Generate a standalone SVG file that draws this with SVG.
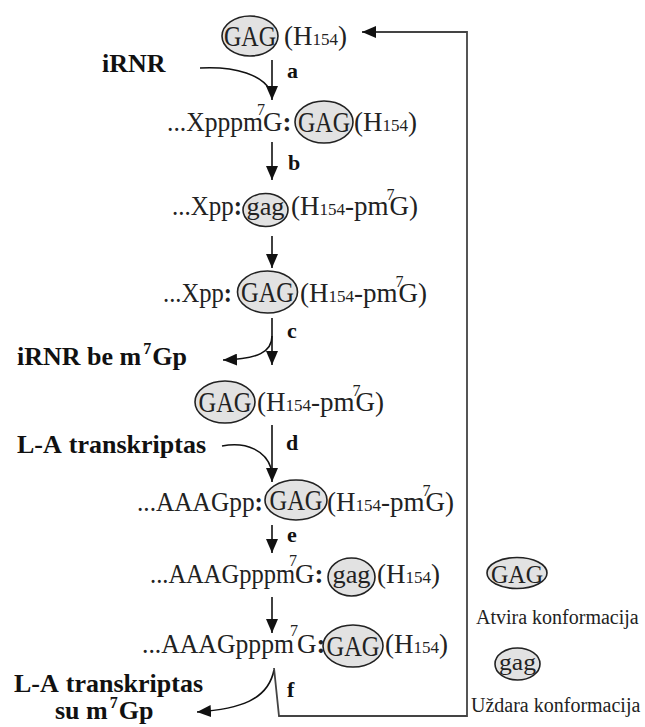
<svg xmlns="http://www.w3.org/2000/svg" width="645" height="727" viewBox="0 0 645 727">
<style>
.t{font-family:"Liberation Serif","Times New Roman",serif;font-size:27px;fill:#222}
.sm{font-size:17px}
.sup{font-size:16px}
.b{font-weight:bold}
.lab{font-family:"Liberation Serif","Times New Roman",serif;font-size:22px;font-weight:bold;fill:#111}
.side{font-family:"Liberation Serif","Times New Roman",serif;font-size:26px;font-weight:bold;fill:#111}
.ss{font-size:16px}
.leg{font-family:"Liberation Serif","Times New Roman",serif;font-size:20px;fill:#222}
.el{fill:#e2e2e2;stroke:#222;stroke-width:1.6}
.in{font-family:"Liberation Serif","Times New Roman",serif;font-size:29px;fill:#222;text-anchor:middle}
.ar{fill:none;stroke:#111;stroke-width:1.6}
.ret{fill:none;stroke:#444;stroke-width:1.8}
</style>
<defs>
<marker id="ah" markerUnits="userSpaceOnUse" viewBox="0 0 14 12" refX="14" refY="6" markerWidth="14" markerHeight="12" orient="auto">
<path d="M0,0 L14,6 L0,12 z" fill="#111"/>
</marker>
</defs>

<g id="connectors">
<path class="ar" d="M272,60 V100" marker-end="url(#ah)"/>
<path class="ar" d="M200,68 C238,66 262,76 270,90"/>
<path class="ar" d="M272,142 V180" marker-end="url(#ah)"/>
<path class="ar" d="M272,236 V268" marker-end="url(#ah)"/>
<path class="ar" d="M272,318 V365" marker-end="url(#ah)"/>
<path class="ar" d="M272,336 C272,352 258,359 223,360" marker-end="url(#ah)"/>
<path class="ar" d="M272,425 V482" marker-end="url(#ah)"/>
<path class="ar" d="M222,446 C248,441 266,452 271,468"/>
<path class="ar" d="M272,525 V553" marker-end="url(#ah)"/>
<path class="ar" d="M272,597 V633" marker-end="url(#ah)"/>
<path class="ar" d="M274,670 C268,700 240,709 197,712" marker-end="url(#ah)"/>
<path class="ret" d="M274,668 L279,716 L467,716 L467,32 L362,32" marker-end="url(#ah)"/>
<text class="lab" x="287" y="78">a</text>
<text class="lab" x="288" y="170">b</text>
<text class="lab" x="287" y="338">c</text>
<text class="lab" x="286" y="450">d</text>
<text class="lab" x="287" y="542">e</text>
<text class="lab" x="287" y="697">f</text>
</g>

<g id="side-labels">
<text class="side" x="102" y="72">iRNR</text>
<text class="side" x="17" y="365">iRNR be m<tspan class="ss" dx="2" dy="-11">7</tspan><tspan dx="1" dy="11">Gp</tspan></text>
<text class="side" x="17" y="453">L-A<tspan dx="7">transkriptas</tspan></text>
<text class="side" x="14" y="692">L-A<tspan dx="7">transkriptas</tspan></text>
<text class="side" x="55" y="719">su m<tspan class="ss" dx="2" dy="-11">7</tspan><tspan dx="1" dy="11">Gp</tspan></text>
</g>

<g id="n1">
<ellipse class="el" cx="250" cy="36" rx="28" ry="20"/>
<text class="in" x="250" y="46" textLength="52" lengthAdjust="spacingAndGlyphs">GAG</text>
<text class="t" x="284" y="45">(H<tspan class="sm">154</tspan>)</text>
</g>

<g id="n2">
<text class="t" x="167" y="131" textLength="96" lengthAdjust="spacingAndGlyphs">...Xpppm</text>
<text class="t sup" x="257" y="115">7</text>
<text class="t" x="263" y="131">G<tspan class="b">:</tspan></text>
<ellipse class="el" cx="324" cy="122" rx="29" ry="21"/>
<text class="in" x="324" y="132" textLength="52" lengthAdjust="spacingAndGlyphs">GAG</text>
<text class="t" x="354" y="131">(H<tspan class="sm">154</tspan>)</text>
</g>

<g id="n3">
<text class="t" x="172" y="215" textLength="70" lengthAdjust="spacingAndGlyphs">...Xpp<tspan class="b">:</tspan></text>
<ellipse class="el" cx="265.5" cy="210" rx="22.5" ry="16.5"/>
<text class="in" x="265.5" y="215" style="font-size:26px" textLength="38" lengthAdjust="spacingAndGlyphs">gag</text>
<text class="t" x="291" y="215">(H<tspan class="sm">154</tspan>-pm<tspan class="sup" dx="-2" dy="-15">7</tspan><tspan dx="-5" dy="15">G)</tspan></text>
</g>

<g id="n4">
<text class="t" x="163" y="302" textLength="69" lengthAdjust="spacingAndGlyphs">...Xpp<tspan class="b">:</tspan></text>
<ellipse class="el" cx="267.5" cy="292" rx="30" ry="21"/>
<text class="in" x="267.5" y="302" textLength="53" lengthAdjust="spacingAndGlyphs">GAG</text>
<text class="t" x="300" y="302">(H<tspan class="sm">154</tspan>-pm<tspan class="sup" dx="-2" dy="-15">7</tspan><tspan dx="-5" dy="15">G)</tspan></text>
</g>

<g id="n5">
<ellipse class="el" cx="225" cy="402" rx="30" ry="21"/>
<text class="in" x="225" y="412" textLength="53" lengthAdjust="spacingAndGlyphs">GAG</text>
<text class="t" x="257" y="411">(H<tspan class="sm">154</tspan>-pm<tspan class="sup" dx="-2" dy="-15">7</tspan><tspan dx="-5" dy="15">G)</tspan></text>
</g>

<g id="n6">
<text class="t" x="137" y="511" textLength="126" lengthAdjust="spacingAndGlyphs">...AAAGpp<tspan class="b">:</tspan></text>
<ellipse class="el" cx="296" cy="500" rx="31" ry="20"/>
<text class="in" x="296" y="510" textLength="53" lengthAdjust="spacingAndGlyphs">GAG</text>
<text class="t" x="327" y="511">(H<tspan class="sm">154</tspan>-pm<tspan class="sup" dx="-2" dy="-15">7</tspan><tspan dx="-5" dy="15">G)</tspan></text>
</g>

<g id="n7">
<text class="t" x="150" y="583" textLength="145" lengthAdjust="spacingAndGlyphs">...AAAGpppm</text>
<text class="t sup" x="289" y="566">7</text>
<text class="t" x="295" y="583">G<tspan class="b">:</tspan></text>
<ellipse class="el" cx="351.5" cy="577" rx="23.5" ry="19"/>
<text class="in" x="351.5" y="583" style="font-size:26px" textLength="38" lengthAdjust="spacingAndGlyphs">gag</text>
<text class="t" x="377" y="583">(H<tspan class="sm">154</tspan>)</text>
</g>

<g id="n8">
<text class="t" x="142" y="653" textLength="152" lengthAdjust="spacingAndGlyphs">...AAAGpppm</text>
<text class="t sup" x="290" y="636">7</text>
<text class="t" x="297" y="653">G<tspan class="b">:</tspan></text>
<ellipse class="el" cx="353" cy="646" rx="30" ry="21"/>
<text class="in" x="353" y="656" textLength="53" lengthAdjust="spacingAndGlyphs">GAG</text>
<text class="t" x="385" y="653">(H<tspan class="sm">154</tspan>)</text>
</g>

<g id="legend">
<ellipse class="el" cx="517" cy="573" rx="30" ry="15.5"/>
<text class="in" x="517" y="583" style="font-size:26px" textLength="52" lengthAdjust="spacingAndGlyphs">GAG</text>
<text class="leg" x="476" y="624">Atvira konformacija</text>
<ellipse class="el" cx="517.5" cy="664" rx="22.5" ry="16"/>
<text class="in" x="517.5" y="670" style="font-size:24px" textLength="37" lengthAdjust="spacingAndGlyphs">gag</text>
<text class="leg" x="471" y="712">Uždara konformacija</text>
</g>
</svg>
